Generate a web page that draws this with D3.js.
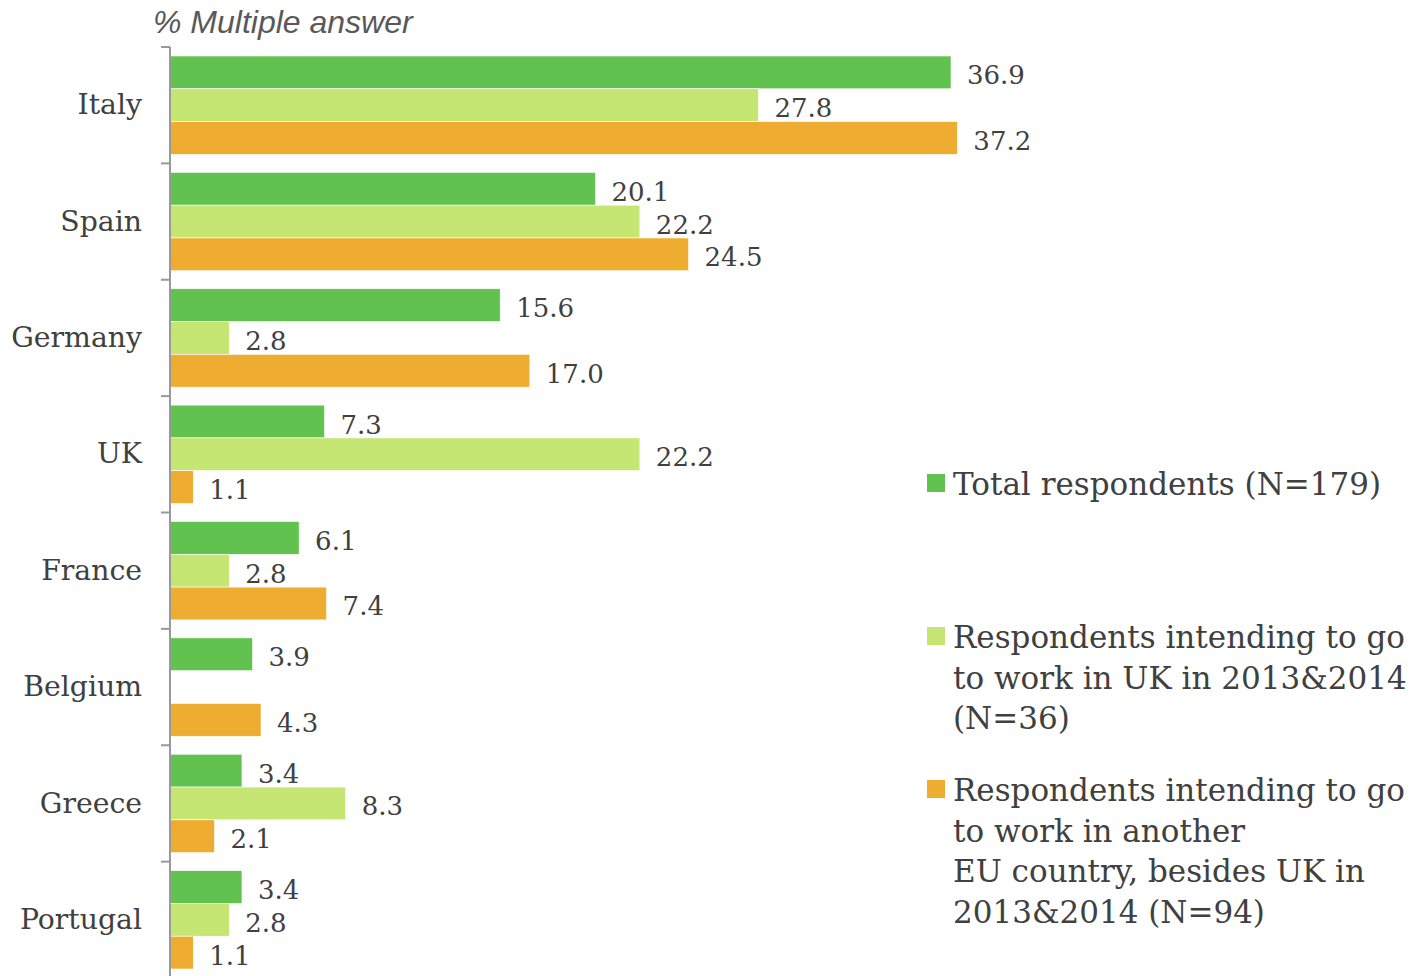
<!DOCTYPE html>
<html><head><meta charset="utf-8">
<script src="https://cdn.jsdelivr.net/npm/d3@7"></script>
<style>
html,body{margin:0;padding:0;background:#fff;}
svg{display:block;}
</style></head>
<body>
<script>
const categories = ["Italy","Spain","Germany","UK","France","Belgium","Greece","Portugal"];
const seriesNames = ["Total respondents (N=179)","Respondents intending to go to work in UK in 2013&2014 (N=36)","Respondents intending to go to work in another EU country, besides UK in 2013&2014 (N=94)"];
const total = [36.9,20.1,15.6,7.3,6.1,3.9,3.4,3.4];
const uk = [27.8,22.2,2.8,22.2,2.8,null,8.3,2.8];
const otherEU = [37.2,24.5,17.0,1.1,7.4,4.3,2.1,1.1];
const legendLines = [["Total respondents (N=179)"],["Respondents intending to go","to work in UK in 2013&2014","(N=36)"],["Respondents intending to go","to work in another","EU country, besides UK in","2013&2014 (N=94)"]];
const colors = ["#61C250","#C5E672","#EEAD30"];
const seriesValues = [total, uk, otherEU];

const W=1420,H=976;
const svg=d3.select("body").append("svg").attr("width",W).attr("height",H);
const serif="'DejaVu Serif', Georgia, serif";
const x=d3.scaleLinear().domain([0,36.9]).range([170,951]);
const y=d3.scaleBand().domain(categories).range([47,978]).padding(0);
const yi=d3.scaleBand().domain([0,1,2]).range([9,y.bandwidth()-9]).padding(0);

svg.append("text").attr("x",153).attr("y",33).attr("font-family","'Liberation Sans', Arial, sans-serif")
  .attr("font-style","italic").attr("font-size",32).attr("fill","#595959").text("% Multiple answer");

const data=[];
categories.forEach((c,i)=>seriesValues.forEach((s,j)=>{ if(s[i]!=null) data.push({c,j,v:s[i]}); }));

svg.selectAll("rect.bar").data(data).enter().append("rect").attr("class","bar")
  .attr("x",x(0)).attr("y",d=>y(d.c)+yi(d.j)).attr("width",d=>x(d.v)-x(0)).attr("height",yi.bandwidth())
  .attr("fill",d=>colors[d.j]).attr("stroke","#fff").attr("stroke-width",0.6);

svg.selectAll("text.val").data(data).enter().append("text").attr("class","val")
  .attr("x",d=>x(d.v)+16).attr("y",d=>y(d.c)+yi(d.j)+yi.bandwidth()/2+12)
  .attr("font-family",serif).attr("font-size",26).attr("fill","#404040").text(d=>d.v.toFixed(1));

// axis
const axis=d3.axisLeft(y).tickSize(0).tickPadding(28);
const g=svg.append("g").attr("transform","translate(170,0)").call(axis);
g.select(".domain").remove();
g.selectAll("text").attr("font-family",serif).attr("font-size",28.3).attr("fill","#404040");
svg.append("line").attr("x1",170).attr("x2",170).attr("y1",47).attr("y2",976).attr("stroke","#999").attr("stroke-width",2);
const bounds=categories.map(c=>y(c));
svg.selectAll("line.tk").data(bounds).enter().append("line").attr("class","tk")
  .attr("x1",161).attr("x2",170).attr("y1",d=>d).attr("y2",d=>d).attr("stroke","#999").attr("stroke-width",2);

// legend
const legTops=[474,627,780];
legendLines.forEach((lines,j)=>{
  svg.append("rect").attr("x",927).attr("y",legTops[j]).attr("width",18).attr("height",18).attr("fill",colors[j]);
  const t=svg.append("text").attr("x",953).attr("y",legTops[j]+21).attr("font-family",serif).attr("font-size",31).attr("fill","#404040");
  lines.forEach((l,k)=>t.append("tspan").attr("x",953).attr("dy",k?40.7:0).text(l));
});
</script>
</body></html>
